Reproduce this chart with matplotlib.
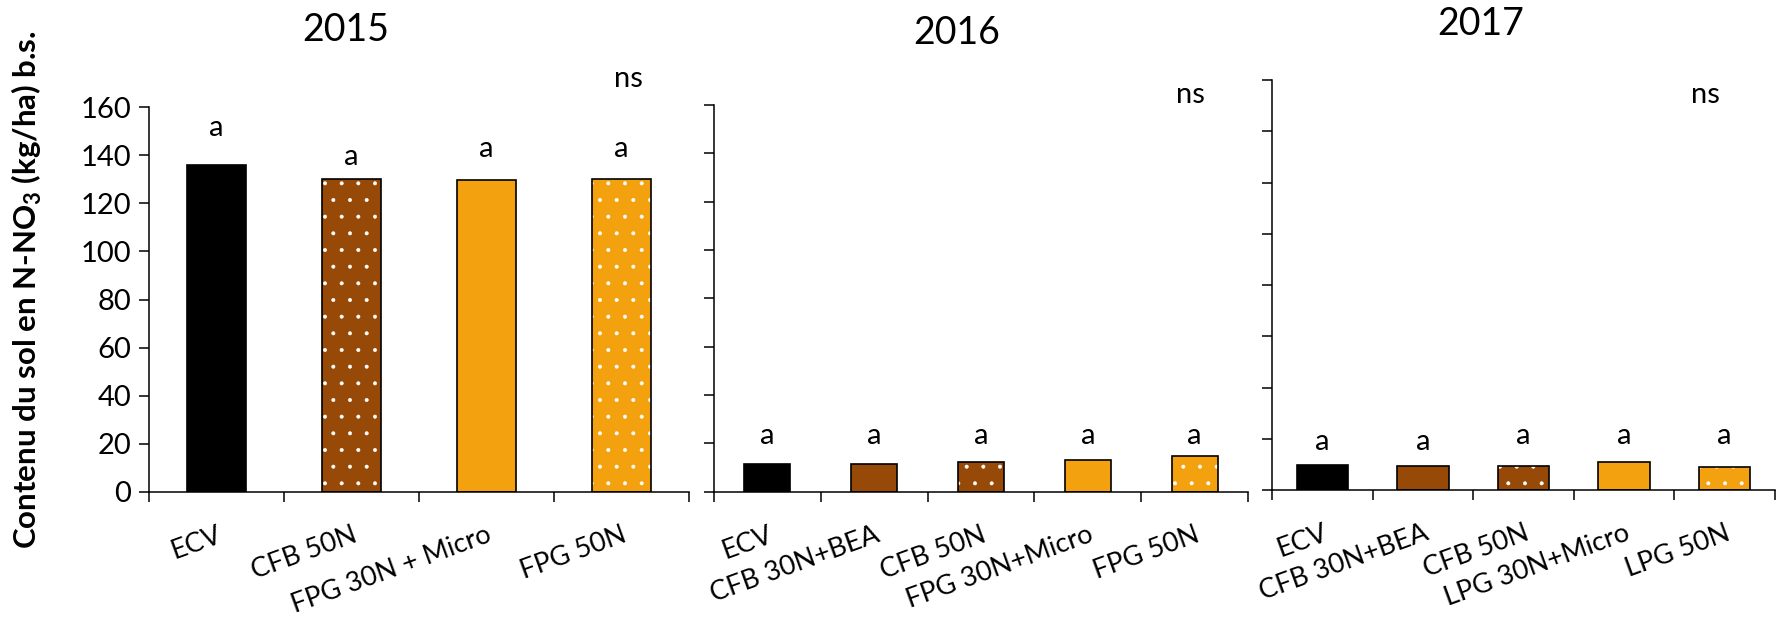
import matplotlib
matplotlib.use("Agg")
import matplotlib.pyplot as plt

plt.rcParams['font.family'] = ['Lato', 'DejaVu Sans']
plt.rcParams['mathtext.fontset'] = 'custom'
plt.rcParams['mathtext.rm'] = 'Lato'
plt.rcParams['mathtext.bf'] = 'Lato:bold'
plt.rcParams['hatch.linewidth'] = 0.4

# N-NO3 soil content (kg/ha) per treatment and year
years = ['2015', '2016', '2017']
labels_2015 = ['ECV', 'CFB 50N', 'FPG 30N + Micro', 'FPG 50N']
labels_2016 = ['ECV', 'CFB 30N+BEA', 'CFB 50N', 'FPG 30N+Micro', 'FPG 50N']
labels_2017 = ['ECV', 'CFB 30N+BEA', 'CFB 50N', 'LPG 30N+Micro', 'LPG 50N']
values_2015 = [136.0, 130.4, 129.9, 130.3]
values_2016 = [11.3, 11.2, 12.2, 13.0, 14.9]
values_2017 = [9.6, 9.3, 9.4, 10.9, 9.1]
letters_2015 = ['a', 'a', 'a', 'a']
letters_2016 = ['a', 'a', 'a', 'a', 'a']
letters_2017 = ['a', 'a', 'a', 'a', 'a']
# height (in data units) where the letters sit
letter_y_2015 = [151.5, 139.5, 142.5, 142.5]
letter_y_2016 = [23.0, 23.0, 23.0, 23.0, 23.0]
letter_y_2017 = [18.7, 18.7, 21.1, 21.1, 21.1]

BLACK = '#000000'
BROWN = '#974A07'
ORANGE = '#F4A10F'

colors_2015 = [BLACK, BROWN, ORANGE, ORANGE]
dots_2015 = [False, True, False, True]
colors_next = [BLACK, BROWN, BROWN, ORANGE, ORANGE]
dots_next = [False, False, True, False, True]

W, H = 1781, 628
fig = plt.figure(figsize=(W / 100, H / 100), dpi=100)


def px_axes(left, right, top, bottom):
    return fig.add_axes([left / W, 1 - bottom / H, (right - left) / W, (bottom - top) / H])


def draw_panel(ax, labels, values, colors, dots, letters, letter_y, width, ns_pos, show_labels):
    x = list(range(len(labels)))
    ax.bar(x, values, width=width, color=colors, linewidth=0, zorder=2)
    for xi, v, d in zip(x, values, dots):
        if d:
            ax.bar(xi, v, width=width, facecolor='none', edgecolor='white',
                   hatch='.', linewidth=0, zorder=3)
    ax.bar(x, values, width=width, facecolor='none', edgecolor='black',
           linewidth=1.2, zorder=4)
    for xi, t, ty in zip(x, letters, letter_y):
        ax.text(xi, ty, t, ha='center', va='center', fontsize=21, clip_on=False)
    ax.text(ns_pos[0], ns_pos[1], 'ns', ha='center', va='center', fontsize=21, clip_on=False)

    ax.set_xlim(-0.5, len(labels) - 0.5)
    ax.set_ylim(0, 160)
    ax.set_yticks(range(0, 161, 20))
    if not show_labels:
        ax.set_yticklabels([])
    ax.set_xticks(x)
    ax.set_xticklabels(labels, rotation=20, ha='right', rotation_mode='anchor', fontsize=19.5)
    ax.set_xticks([i - 0.5 for i in range(len(labels) + 1)], minor=True)
    ax.tick_params(axis='x', which='major', length=0, pad=22)
    ax.tick_params(axis='x', which='minor', length=7, width=1.1, direction='out')
    ax.tick_params(axis='y', length=7, width=1.1, direction='out', labelsize=21, pad=6)
    for s in ['top', 'right']:
        ax.spines[s].set_visible(False)
    for s in ['left', 'bottom']:
        ax.spines[s].set_linewidth(1.1)
    ax.set_facecolor('none')


ax1 = px_axes(149, 689, 107.5, 491.5)
draw_panel(ax1, labels_2015, values_2015, colors_2015, dots_2015, letters_2015,
           letter_y_2015, 0.43, (3.05, 172), True)

ax2 = px_axes(714, 1248, 105, 491.5)
draw_panel(ax2, labels_2016, values_2016, colors_next, dots_next, letters_2016,
           letter_y_2016, 0.43, (3.96, 164), False)

ax3 = px_axes(1272, 1775, 80, 490)
draw_panel(ax3, labels_2017, values_2017, colors_next, dots_next, letters_2017,
           letter_y_2017, 0.51, (3.81, 154), False)

# year titles
for yr, (tx, ty) in zip(years, [(346, 30), (957, 33), (1481, 24)]):
    fig.text(tx / W, 1 - ty / H, yr, ha='center', va='center', fontsize=27)

fig.text(27 / W, 1 - 290 / H, r'Contenu du sol en N-NO$_\mathbf{3}$ (kg/ha) b.s.',
         rotation=90, ha='center', va='center', fontsize=22.5, fontweight='bold')

fig.savefig('out.png', dpi=100, facecolor='white')
